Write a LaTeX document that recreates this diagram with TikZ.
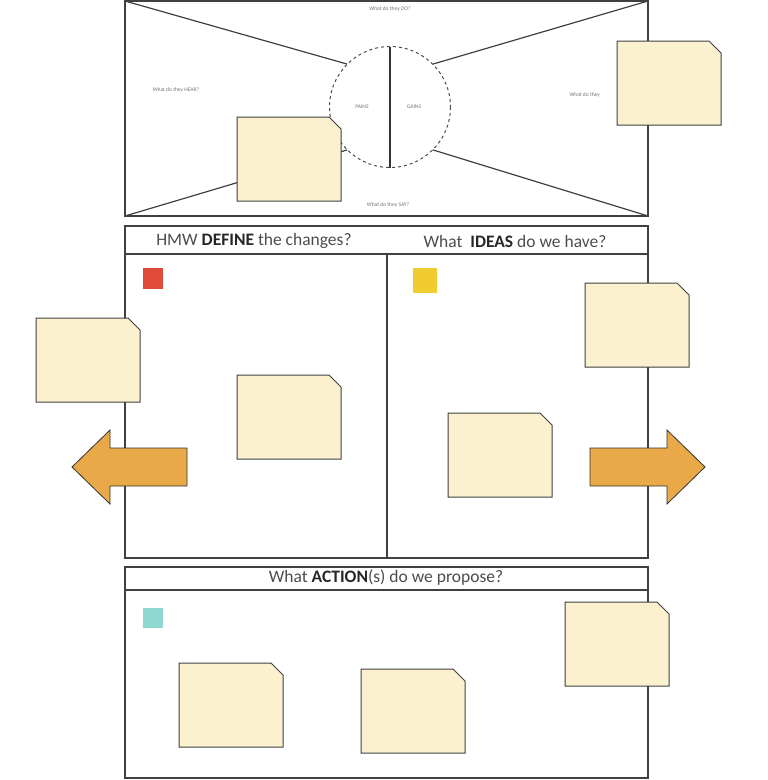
\documentclass[tikz,border=0pt]{standalone}
\usepackage{fontspec}
\setmainfont{Carlito}
\definecolor{notefill}{HTML}{FBF1CF}
\definecolor{arrfill}{HTML}{E9A948}
\definecolor{sqred}{HTML}{E04A3A}
\definecolor{sqyel}{HTML}{F0CC30}
\definecolor{sqteal}{HTML}{8FD8D2}
\begin{document}
\begin{tikzpicture}[x=1pt,y=-1pt,
  frame/.style={draw=black!75,line width=1.2pt},
  tiny/.style={font=\fontsize{5.5}{6}\selectfont,text=black!55},
  head/.style={font=\fontsize{17.5}{20}\selectfont,text=black!70},
  note/.style={draw=black!75,line width=1pt,fill=notefill},
  arr/.style={draw=black!80,line width=0.8pt,fill=arrfill}]
\useasboundingbox (0,0) rectangle (768,780);
\def\sticky#1#2{\draw[note] (#1,#2) -- (#1+92,#2) -- (#1+104,#2+12) -- (#1+104,#2+84) -- (#1,#2+84) -- cycle;}
% top empathy map
\draw[frame] (125,1) rectangle (648,216);
\node[circle,minimum size=121pt,inner sep=0pt] (c) at (390,107) {};
\draw[black!70,dashed,line width=1pt] (c) circle (60.5);
\draw[black!80,line width=1.2pt] (390,47) -- (390,168);
\coordinate (tl) at (125,1); \coordinate (tr) at (648,1);
\coordinate (bl) at (125,216); \coordinate (br) at (648,216);
\draw[black!75,line width=1.2pt] (tl) -- (c.north west) (tr) -- (c.north east) (bl) -- (c.south west) (br) -- (c.south east);
\node[tiny] (do) at (390,9) {What do they DO?};
\node[tiny] (hear) at (176,90) {What do they HEAR?};
\node[tiny,anchor=west] (feel) at (566,95) {What do they};
\node[tiny] (pains) at (362,107) {PAINS};
\node[tiny] (gains) at (414,107) {GAINS};
\node[tiny] (say) at (388,205) {What do they SAY?};
\sticky{617}{41}
\sticky{237}{117}
% middle
\draw[frame] (125,226) rectangle (648,558);
\draw[frame] (125,254) -- (648,254);
\draw[frame] (387,254) -- (387,558);
\node[head] (h1) at (254,241) {HMW \textbf{\color{black!85}DEFINE} the changes?};
\node[head] (h2) at (515,241) {What \ \textbf{\color{black!85}IDEAS} do we have?};
\fill[sqred] (143,268) rectangle (163,289);
\fill[sqyel] (413,268) rectangle (437,293);
\draw[arr] (72,467) -- (110,430) -- (110,448) -- (187,448) -- (187,486) -- (110,486) -- (110,504) -- cycle;
\draw[arr] (705,467) -- (667,430) -- (667,448) -- (590,448) -- (590,486) -- (667,486) -- (667,504) -- cycle;
\sticky{36}{318}
\sticky{237}{375}
\sticky{585}{283}
\sticky{448}{413}
% bottom
\draw[frame] (125,567) rectangle (648,778);
\draw[frame] (125,590) -- (648,590);
\node[head] (h3) at (386,578) {What \textbf{\color{black!85}ACTION}(s) do we propose?};
\fill[sqteal] (143,608) rectangle (163,628);
\sticky{565}{602}
\sticky{179}{663}
\sticky{361}{669}
\end{tikzpicture}
\end{document}
